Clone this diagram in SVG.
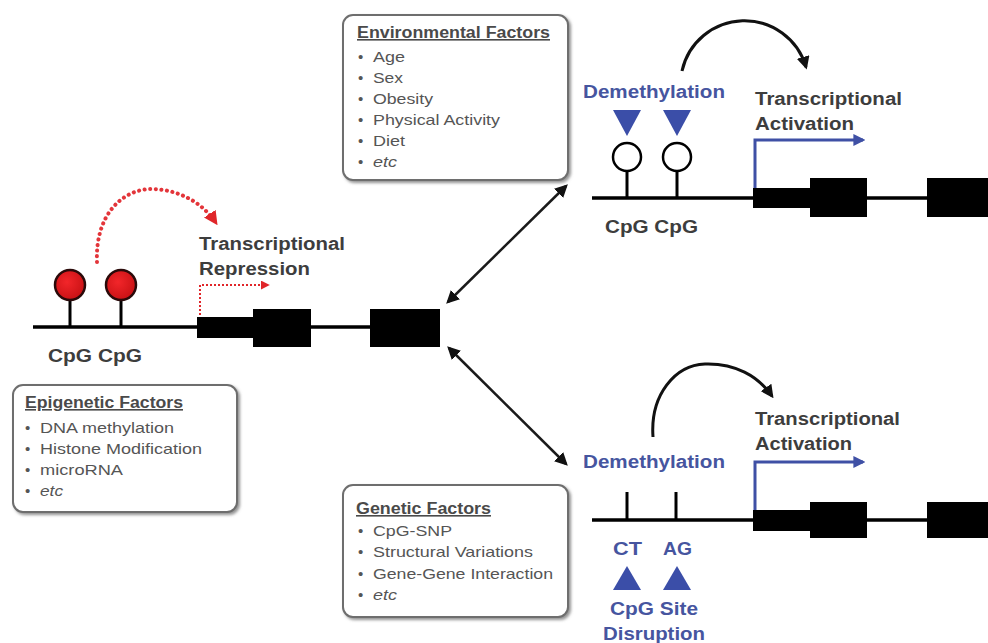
<svg xmlns="http://www.w3.org/2000/svg" width="988" height="643" viewBox="0 0 988 643">
<style>
.lbl{font-family:"Liberation Sans",Arial,sans-serif;font-weight:bold;font-size:18px;fill:#3d3d3d}
.blue{fill:#46559f}
.ttl{font-family:"Liberation Sans",Arial,sans-serif;font-weight:bold;font-size:16px;fill:#4a4a4a;text-decoration:underline}
.itm{font-family:"Liberation Sans",Arial,sans-serif;font-size:15px;fill:#555}
.it{font-style:italic}
.box{fill:#fff;stroke:#6e6e6e;stroke-width:2;filter:url(#sh)}
.dna{stroke:#000;stroke-width:3.5;fill:none}
.ex{fill:#000}
.stem{stroke:#000;stroke-width:3}
.conn{stroke:#1a1a1a;stroke-width:2.5;fill:none}
</style>
<defs>
<filter id="sh" x="-10%" y="-10%" width="125%" height="125%"><feDropShadow dx="2" dy="2" stdDeviation="1.5" flood-color="#777" flood-opacity="0.8"/></filter>
<marker id="ah" viewBox="0 0 10 10" refX="8" refY="5" markerWidth="13" markerHeight="13" markerUnits="userSpaceOnUse" orient="auto-start-reverse"><path d="M0,0 L10,5 L0,10 z" fill="#111"/></marker>
<marker id="ahr" viewBox="0 0 10 10" refX="8" refY="5" markerWidth="14" markerHeight="14" markerUnits="userSpaceOnUse" orient="auto"><path d="M0,0 L10,5 L0,10 z" fill="#e0262a"/></marker>
<marker id="ahr2" viewBox="0 0 10 10" refX="8" refY="5" markerWidth="9" markerHeight="9" markerUnits="userSpaceOnUse" orient="auto"><path d="M0,0 L10,5 L0,10 z" fill="#e0262a"/></marker>
<marker id="ahb" viewBox="0 0 10 10" refX="8" refY="5" markerWidth="12" markerHeight="12" markerUnits="userSpaceOnUse" orient="auto"><path d="M0,0 L10,5 L0,10 z" fill="#3f50a5"/></marker>
<radialGradient id="rg" cx="0.4" cy="0.4" r="0.7"><stop offset="0" stop-color="#f2262a"/><stop offset="1" stop-color="#c40f12"/></radialGradient>
</defs>

<g id="gene-left">
<line class="dna" x1="33" y1="327" x2="372" y2="327"/>
<rect class="ex" x="197" y="317" width="58" height="21"/>
<rect class="ex" x="253" y="309" width="58" height="38"/>
<rect class="ex" x="370" y="309" width="70" height="38"/>
<line class="stem" x1="70" y1="327" x2="70" y2="299"/>
<line class="stem" x1="121" y1="327" x2="121" y2="299"/>
<circle cx="70" cy="285" r="15" fill="url(#rg)" stroke="#2a0a0a" stroke-width="2.5"/>
<circle cx="121" cy="285" r="15" fill="url(#rg)" stroke="#2a0a0a" stroke-width="2.5"/>
<text class="lbl" x="48" y="362" textLength="94" lengthAdjust="spacingAndGlyphs">CpG CpG</text>
<text class="lbl" x="199" y="250" textLength="146" lengthAdjust="spacingAndGlyphs">Transcriptional</text>
<text class="lbl" x="199" y="275" textLength="111" lengthAdjust="spacingAndGlyphs">Repression</text>
<path d="M97,262 C95,215 122,190 150,189 C178,189 202,202 216,223" fill="none" stroke="#e3353a" stroke-width="4" stroke-dasharray="0.1,5.5" stroke-linecap="round" marker-end="url(#ahr)"/>
<path d="M200,315 V285 H268" fill="none" stroke="#e0262a" stroke-width="2" stroke-dasharray="2,2" marker-end="url(#ahr2)"/>
</g>

<g id="epigenetic-factors">
<rect class="box" x="13" y="385" width="224" height="127" rx="10"/>
<text class="ttl" x="25" y="408" textLength="158" lengthAdjust="spacingAndGlyphs">Epigenetic Factors</text>
<text class="itm" x="25" y="433">•</text><text class="itm" x="40" y="433" textLength="134" lengthAdjust="spacingAndGlyphs">DNA methylation</text>
<text class="itm" x="25" y="454">•</text><text class="itm" x="40" y="454" textLength="162" lengthAdjust="spacingAndGlyphs">Histone Modification</text>
<text class="itm" x="25" y="475">•</text><text class="itm" x="40" y="475" textLength="83" lengthAdjust="spacingAndGlyphs">microRNA</text>
<text class="itm" x="25" y="496">•</text><text class="itm it" x="40" y="496" textLength="23" lengthAdjust="spacingAndGlyphs">etc</text>
</g>

<g id="environmental-factors">
<rect class="box" x="343" y="15" width="225" height="165" rx="10"/>
<text class="ttl" x="357" y="38" textLength="193" lengthAdjust="spacingAndGlyphs">Environmental Factors</text>
<text class="itm" x="358" y="62">•</text><text class="itm" x="373" y="62" textLength="32" lengthAdjust="spacingAndGlyphs">Age</text>
<text class="itm" x="358" y="83">•</text><text class="itm" x="373" y="83" textLength="30" lengthAdjust="spacingAndGlyphs">Sex</text>
<text class="itm" x="358" y="104">•</text><text class="itm" x="373" y="104" textLength="60" lengthAdjust="spacingAndGlyphs">Obesity</text>
<text class="itm" x="358" y="125">•</text><text class="itm" x="373" y="125" textLength="127" lengthAdjust="spacingAndGlyphs">Physical Activity</text>
<text class="itm" x="358" y="146">•</text><text class="itm" x="373" y="146" textLength="32" lengthAdjust="spacingAndGlyphs">Diet</text>
<text class="itm" x="358" y="167">•</text><text class="itm it" x="373" y="167" textLength="24" lengthAdjust="spacingAndGlyphs">etc</text>
</g>

<g id="genetic-factors">
<rect class="box" x="343" y="485" width="225" height="132" rx="10"/>
<text class="ttl" x="356" y="514" textLength="135" lengthAdjust="spacingAndGlyphs">Genetic Factors</text>
<text class="itm" x="358" y="536">•</text><text class="itm" x="373" y="536" textLength="79" lengthAdjust="spacingAndGlyphs">CpG-SNP</text>
<text class="itm" x="358" y="557">•</text><text class="itm" x="373" y="557" textLength="160" lengthAdjust="spacingAndGlyphs">Structural Variations</text>
<text class="itm" x="358" y="579">•</text><text class="itm" x="373" y="579" textLength="180" lengthAdjust="spacingAndGlyphs">Gene-Gene Interaction</text>
<text class="itm" x="358" y="600">•</text><text class="itm it" x="373" y="600" textLength="24" lengthAdjust="spacingAndGlyphs">etc</text>
</g>

<g id="gene-top-right">
<line class="dna" x1="592" y1="198" x2="988" y2="198"/>
<rect class="ex" x="753" y="188" width="59" height="20"/>
<rect class="ex" x="810" y="178" width="57" height="39"/>
<rect class="ex" x="927" y="178" width="61" height="39"/>
<line class="stem" x1="627" y1="198" x2="627" y2="171"/>
<line class="stem" x1="677" y1="198" x2="677" y2="171"/>
<circle cx="627" cy="157" r="14" fill="#fff" stroke="#000" stroke-width="2.5"/>
<circle cx="677" cy="157" r="14" fill="#fff" stroke="#000" stroke-width="2.5"/>
<polygon points="613,110 641,110 627,136" fill="#3b4ea8"/>
<polygon points="663,110 691,110 677,136" fill="#3b4ea8"/>
<text class="lbl blue" x="583" y="98" textLength="142" lengthAdjust="spacingAndGlyphs">Demethylation</text>
<text class="lbl" x="755" y="105" textLength="147" lengthAdjust="spacingAndGlyphs">Transcriptional</text>
<text class="lbl" x="755" y="130" textLength="99" lengthAdjust="spacingAndGlyphs">Activation</text>
<text class="lbl" x="605" y="233" textLength="93" lengthAdjust="spacingAndGlyphs">CpG CpG</text>
<path d="M755,188 V140 H863" fill="none" stroke="#3f50a5" stroke-width="3" marker-end="url(#ahb)"/>
<path d="M682,71 A64,64 0 0 1 806,67" fill="none" stroke="#111" stroke-width="3" marker-end="url(#ah)"/>
</g>

<g id="gene-bottom-right">
<line class="dna" x1="592" y1="520" x2="988" y2="520"/>
<rect class="ex" x="753" y="510" width="59" height="21"/>
<rect class="ex" x="810" y="502" width="57" height="36"/>
<rect class="ex" x="927" y="502" width="61" height="36"/>
<line class="stem" x1="627" y1="520" x2="627" y2="492"/>
<line class="stem" x1="676" y1="520" x2="676" y2="492"/>
<text class="lbl blue" x="583" y="468" textLength="142" lengthAdjust="spacingAndGlyphs">Demethylation</text>
<text class="lbl" x="755" y="425" textLength="145" lengthAdjust="spacingAndGlyphs">Transcriptional</text>
<text class="lbl" x="755" y="450" textLength="97" lengthAdjust="spacingAndGlyphs">Activation</text>
<text class="lbl blue" x="613" y="555" textLength="29" lengthAdjust="spacingAndGlyphs">CT</text>
<text class="lbl blue" x="663" y="555" textLength="29" lengthAdjust="spacingAndGlyphs">AG</text>
<polygon points="613,590 641,590 627,566" fill="#3b4ea8"/>
<polygon points="663,590 691,590 677,566" fill="#3b4ea8"/>
<text class="lbl blue" x="610" y="615" textLength="88" lengthAdjust="spacingAndGlyphs">CpG Site</text>
<text class="lbl blue" x="603" y="640" textLength="102" lengthAdjust="spacingAndGlyphs">Disruption</text>
<path d="M755,510 V462 H863" fill="none" stroke="#3f50a5" stroke-width="3" marker-end="url(#ahb)"/>
<path d="M653,437 C650,395 675,365 705,364 C735,363 758,376 772,396" fill="none" stroke="#111" stroke-width="3" marker-end="url(#ah)"/>
</g>

<g id="connectors">
<line class="conn" x1="448" y1="302" x2="566" y2="186" marker-start="url(#ah)" marker-end="url(#ah)"/>
<line class="conn" x1="449" y1="348" x2="566" y2="464" marker-start="url(#ah)" marker-end="url(#ah)"/>
</g>
</svg>
